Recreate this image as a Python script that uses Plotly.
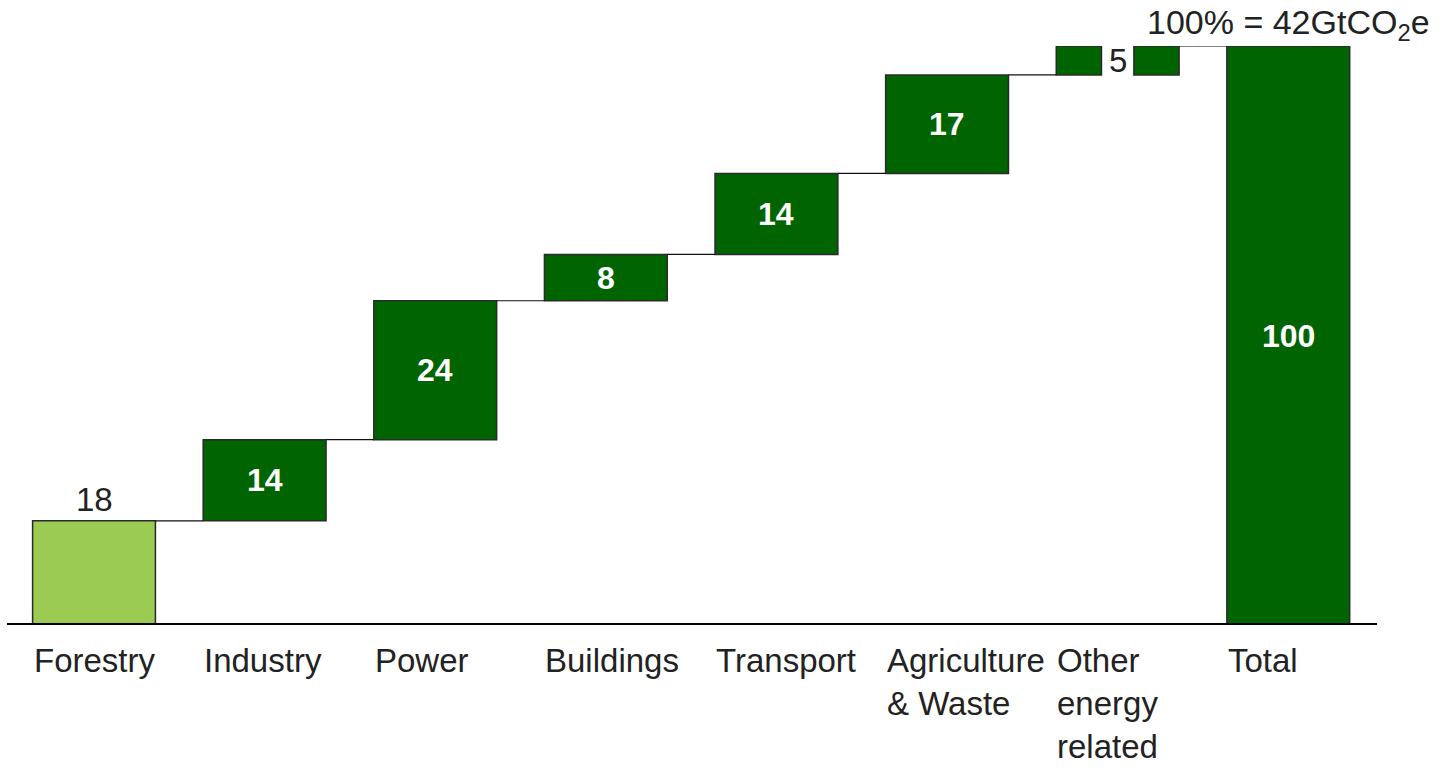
import plotly.graph_objects as go

categories = ["Forestry", "Industry", "Power", "Buildings", "Transport",
              "Agriculture<br>& Waste", "Other<br>energy<br>related", "Total"]
values = [18, 14, 24, 8, 14, 17, 5, 100]
total_label = "100% = 42GtCO<sub>2</sub>e"

DARK = "#006400"
LIGHT = "#9BCB52"
EDGE = "#2a2a2a"
TXT = "#222222"
FONT = "Liberation Sans, Arial, sans-serif"
BW = 0.72

n = len(values)
xs = list(range(n))
bases = []
cum = 0
for i, v in enumerate(values):
    if i == n - 1:
        bases.append(0)
    else:
        bases.append(cum)
        cum += v
ends = [b + v for b, v in zip(bases, values)]

fig = go.Figure()

main_idx = [i for i in range(n) if i != 6]
fig.add_trace(go.Bar(
    x=[xs[i] for i in main_idx],
    y=[values[i] for i in main_idx],
    base=[bases[i] for i in main_idx],
    width=BW,
    marker=dict(color=[LIGHT if i == 0 else DARK for i in main_idx],
                line=dict(color=EDGE, width=1.5)),
    hoverinfo="skip", showlegend=False,
))

gap = 0.19
half = (BW - gap) / 2
fig.add_trace(go.Bar(
    x=[xs[6], xs[6]],
    y=[values[6], values[6]],
    base=[bases[6], bases[6]],
    width=[half, half],
    offset=[-BW / 2, gap / 2],
    marker=dict(color=DARK, line=dict(color=EDGE, width=1.5)),
    hoverinfo="skip", showlegend=False,
))

cx, cy = [], []
for i in range(n - 1):
    cx += [xs[i] + BW / 2, xs[i + 1] - BW / 2, None]
    cy += [ends[i], ends[i], None]
fig.add_trace(go.Scatter(x=cx, y=cy, mode="lines",
                         line=dict(color="#111111", width=1.2),
                         hoverinfo="skip", showlegend=False))

annotations = []
for i, v in enumerate(values):
    if i == 0:
        annotations.append(dict(x=xs[i], y=ends[i], text=str(v), showarrow=False,
                                yanchor="bottom", yshift=1,
                                font=dict(family=FONT, size=33, color=TXT)))
    elif i == 6:
        annotations.append(dict(x=xs[i], y=bases[i] + v / 2, text=str(v), showarrow=False,
                                yanchor="middle",
                                font=dict(family=FONT, size=33, color=TXT)))
    else:
        annotations.append(dict(x=xs[i], y=bases[i] + v / 2, text=str(v), showarrow=False,
                                yanchor="middle",
                                font=dict(family=FONT, size=32, color="white", weight="bold")))
for i, c in enumerate(categories):
    annotations.append(dict(x=xs[i] - BW / 2, y=0, text=c, showarrow=False,
                            xanchor="left", yanchor="top", align="left", yshift=-16,
                            borderpad=0,
                            font=dict(family=FONT, size=33, color=TXT)))
annotations.append(dict(x=xs[-1], y=values[-1], text=total_label, showarrow=False,
                        yanchor="bottom", yshift=-2,
                        font=dict(family=FONT, size=34, color=TXT)))

fig.add_shape(type="line", x0=-0.51, x1=7.52, y0=0, y1=0, xref="x", yref="y",
              line=dict(color="black", width=4))

fig.update_layout(
    width=1445, height=767,
    margin=dict(l=7, r=68, t=46, b=142),
    paper_bgcolor="white", plot_bgcolor="white",
    barmode="overlay",
    xaxis=dict(range=[-0.51, 7.52], visible=False, fixedrange=True),
    yaxis=dict(range=[0, 100], visible=False, fixedrange=True),
    annotations=annotations,
    font=dict(family=FONT),
)
fig.write_html("out.html")
